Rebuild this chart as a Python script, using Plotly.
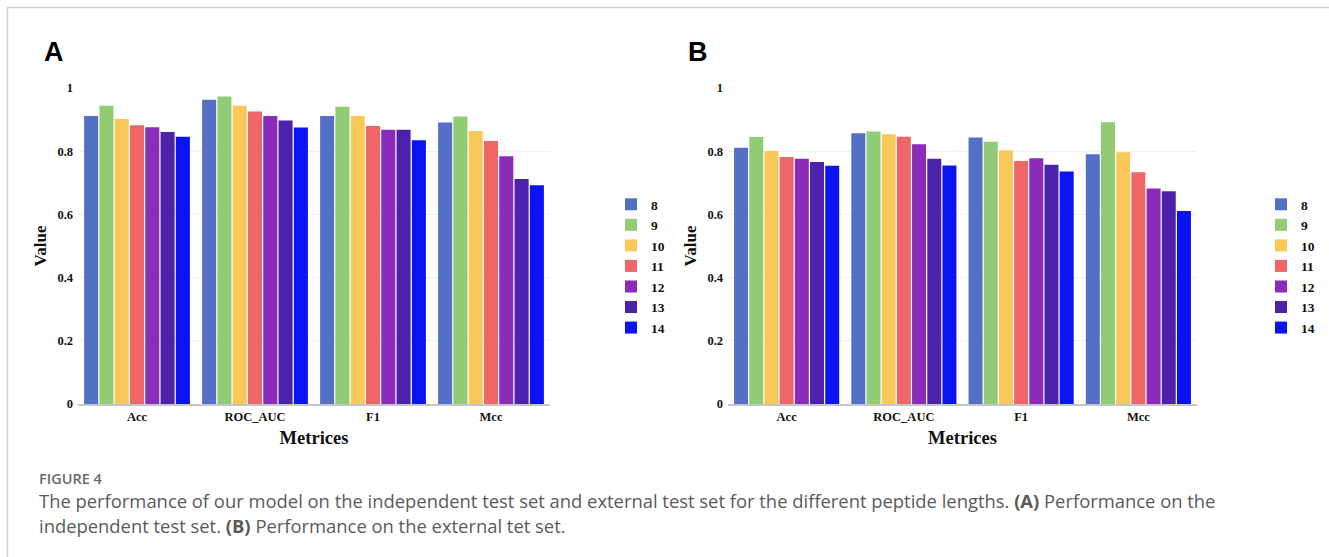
import plotly.graph_objects as go

W, H = 1329, 557

metrics = ["Acc", "ROC_AUC", "F1", "Mcc"]
lengths = ["8", "9", "10", "11", "12", "13", "14"]
colors = ["#5470C6", "#91CC75", "#FAC858", "#EE6666", "#8A2BB9", "#4B22A9", "#0A14F2"]

# Panel A: independent test set (rows = peptide length, columns = metrics)
vals_a = {
    "8":  [0.911, 0.963, 0.911, 0.891],
    "9":  [0.944, 0.973, 0.941, 0.910],
    "10": [0.902, 0.944, 0.911, 0.864],
    "11": [0.882, 0.926, 0.880, 0.832],
    "12": [0.876, 0.911, 0.868, 0.784],
    "13": [0.861, 0.897, 0.868, 0.712],
    "14": [0.846, 0.875, 0.835, 0.692],
}
# Panel B: external test set
vals_b = {
    "8":  [0.811, 0.857, 0.843, 0.790],
    "9":  [0.845, 0.862, 0.830, 0.892],
    "10": [0.801, 0.854, 0.803, 0.797],
    "11": [0.782, 0.846, 0.769, 0.733],
    "12": [0.776, 0.822, 0.778, 0.682],
    "13": [0.766, 0.776, 0.757, 0.673],
    "14": [0.754, 0.755, 0.736, 0.611],
}
yticks = [0, 0.2, 0.4, 0.6, 0.8, 1]
yticktext = ["0", "0.2", "0.4", "0.6", "0.8", "1"]

caption_head = "FIGURE 4"
caption_l1 = ("The performance of our model on the independent test set and external test set for the "
              "different peptide lengths. <b>(A)</b> Performance on the")
caption_l2 = "independent test set. <b>(B)</b> Performance on the external tet set."

def fy(px):
    return 1 - px / H
def fx(px):
    return px / W

SERIF = "Liberation Serif"
fig = go.Figure()

for i, L in enumerate(lengths):
    fig.add_trace(go.Bar(x=metrics, y=vals_a[L], name=L, marker=dict(color=colors[i], line=dict(width=0)),
                         xaxis="x", yaxis="y", legend="legend"))
for i, L in enumerate(lengths):
    fig.add_trace(go.Bar(x=metrics, y=vals_b[L], name=L, marker=dict(color=colors[i], line=dict(width=0)),
                         xaxis="x2", yaxis="y2", legend="legend2"))

ydom = [fy(404), fy(88)]
tickfont = dict(family=SERIF, size=12.5, color="#111", weight="bold")
titlefont_y = dict(family=SERIF, size=17, color="#111", weight="bold")
titlefont_x = dict(family=SERIF, size=18.5, color="#111", weight="bold")

def xax(dom, anchor):
    return dict(domain=dom, anchor=anchor, type="category", showgrid=False, showline=True,
                linecolor="#C3C6CE", linewidth=1.5, ticks="", tickfont=tickfont, automargin=False,
                title=dict(text="Metrices", font=titlefont_x, standoff=8), zeroline=False)

def yax(anchor):
    return dict(domain=ydom, anchor=anchor, range=[0, 1], tickvals=yticks, ticktext=yticktext,
                showgrid=True, gridcolor="#EEF0F4", gridwidth=1, showline=False, zeroline=False,
                ticks="", tickfont=tickfont, ticklabelstandoff=4, automargin=False,
                title=dict(text="Value", font=titlefont_y, standoff=6))

legend_common = dict(font=dict(family=SERIF, size=13.5, color="#111", weight="bold"),
                     bgcolor="rgba(0,0,0,0)", yanchor="middle", xanchor="left",
                     itemclick=False, tracegroupgap=0)

fig.update_layout(
    width=W, height=H,
    margin=dict(l=0, r=0, t=0, b=0, autoexpand=False),
    paper_bgcolor="white", plot_bgcolor="white",
    barmode="group", bargap=0.093, bargroupgap=0.08,
    xaxis=xax([fx(78), fx(550)], "y"),
    yaxis=yax("x"),
    xaxis2=xax([fx(728), fx(1197)], "y2"),
    yaxis2=yax("x2"),
    legend=dict(x=fx(611), y=fy(266), **legend_common),
    legend2=dict(x=fx(1261), y=fy(266), **legend_common),
    showlegend=True,
)

annotations = [
    dict(text="<b>A</b>", x=fx(42), y=fy(52), xref="paper", yref="paper", xanchor="left",
         yanchor="middle", showarrow=False, font=dict(family="Liberation Sans", size=27, color="#000")),
    dict(text="<b>B</b>", x=fx(686), y=fy(52), xref="paper", yref="paper", xanchor="left",
         yanchor="middle", showarrow=False, font=dict(family="Liberation Sans", size=27, color="#000")),
    dict(text=caption_head, x=fx(37), y=fy(478), xref="paper", yref="paper", xanchor="left",
         yanchor="middle", showarrow=False,
         font=dict(family="Open Sans", size=14.5, color="#6A6A6A", weight=600)),
    dict(text=caption_l1, x=fx(37), y=fy(500), xref="paper", yref="paper", xanchor="left",
         yanchor="middle", showarrow=False, font=dict(family="Open Sans", size=18.4, color="#5A5A5A")),
    dict(text=caption_l2, x=fx(37), y=fy(525), xref="paper", yref="paper", xanchor="left",
         yanchor="middle", showarrow=False, font=dict(family="Open Sans", size=18.4, color="#5A5A5A")),
]
fig.update_layout(annotations=annotations)

fig.update_layout(shapes=[
    dict(type="line", xref="paper", yref="paper", x0=fx(7), x1=1, y0=fy(7.5), y1=fy(7.5),
         line=dict(color="#CFCFCF", width=1.5)),
    dict(type="line", xref="paper", yref="paper", x0=fx(7.5), x1=fx(7.5), y0=0, y1=fy(7.5),
         line=dict(color="#CFCFCF", width=1.5)),
])

fig.write_html("out.html")
